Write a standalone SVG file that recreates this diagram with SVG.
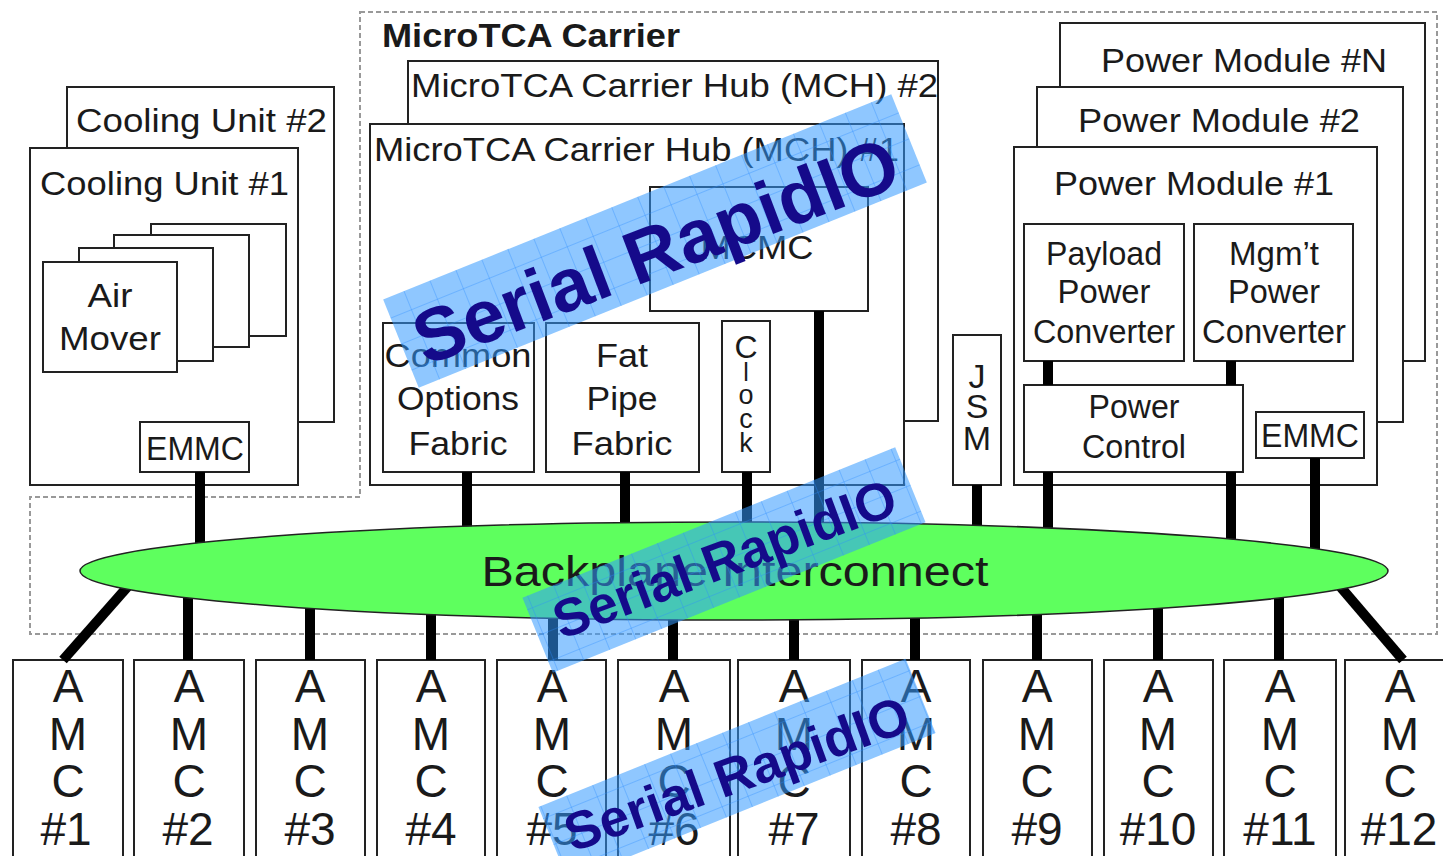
<svg xmlns="http://www.w3.org/2000/svg" width="1443" height="856" viewBox="0 0 1443 856">
<defs>
<style>
.box{fill:#fff;stroke:#222;stroke-width:2}
.t{font-family:"Liberation Sans",Arial,sans-serif;font-size:33px;fill:#1a1a1a}
.c{text-anchor:middle}
.amc{font-family:"Liberation Sans",Arial,sans-serif;font-size:46px;fill:#1a1a1a;text-anchor:middle}
.wire{stroke:#000;stroke-width:10;fill:none}
.band{fill:#3399ff;fill-opacity:0.55}
.sr{font-family:"Liberation Sans",Arial,sans-serif;font-weight:bold;fill:#150a8a;text-anchor:middle}
</style>
<pattern id="grid" width="28" height="28" patternUnits="userSpaceOnUse">
<path d="M28 0H0V28" fill="none" stroke="#2a8cff" stroke-width="1" stroke-opacity="0.7"/>
</pattern>
</defs>
<rect width="1443" height="856" fill="#fff"/>

<g id="carrier">
<path d="M360 12H1437V634H30V497H360Z" fill="none" stroke="#999" stroke-width="2" stroke-dasharray="5 3"/>
<text class="t" x="382" y="47" font-weight="bold" textLength="298" lengthAdjust="spacingAndGlyphs">MicroTCA Carrier</text>
</g>

<g id="cooling2">
<rect class="box" x="67" y="87" width="267" height="335"/>
<text class="t" x="76" y="132" textLength="251" lengthAdjust="spacingAndGlyphs">Cooling Unit #2</text>
</g>
<g id="cooling1">
<rect class="box" x="30" y="148" width="268" height="337"/>
<text class="t" x="40" y="195" textLength="249" lengthAdjust="spacingAndGlyphs">Cooling Unit #1</text>
</g>
<g id="airmover">
<rect class="box" x="151" y="224" width="135" height="112"/>
<rect class="box" x="114" y="235" width="135" height="112"/>
<rect class="box" x="79" y="248" width="134" height="113"/>
<rect class="box" x="43" y="262" width="134" height="110"/>
<text class="t c" x="110" y="307" textLength="45" lengthAdjust="spacingAndGlyphs">Air</text>
<text class="t c" x="110" y="350" textLength="102" lengthAdjust="spacingAndGlyphs">Mover</text>
</g>
<g id="emmc-cooling">
<rect class="box" x="140" y="422" width="109" height="50"/>
<text class="t c" x="195" y="460" textLength="98" lengthAdjust="spacingAndGlyphs">EMMC</text>
</g>

<g id="mch2">
<rect class="box" x="408" y="61" width="530" height="360"/>
<text class="t" x="411" y="97" textLength="527" lengthAdjust="spacingAndGlyphs">MicroTCA Carrier Hub (MCH) #2</text>
</g>
<g id="mch1">
<rect class="box" x="370" y="124" width="534" height="361"/>
<text class="t" x="374" y="161" textLength="525" lengthAdjust="spacingAndGlyphs">MicroTCA Carrier Hub (MCH) #1</text>
</g>
<g id="mcmc">
<rect class="box" x="650" y="187" width="218" height="124"/>
<text class="t c" x="757" y="259" textLength="113" lengthAdjust="spacingAndGlyphs">MCMC</text>
</g>
<g id="common">
<rect class="box" x="383" y="323" width="151" height="149"/>
<text class="t c" x="458" y="367" textLength="147" lengthAdjust="spacingAndGlyphs">Common</text>
<text class="t c" x="458" y="410" textLength="122" lengthAdjust="spacingAndGlyphs">Options</text>
<text class="t c" x="458" y="455" textLength="99" lengthAdjust="spacingAndGlyphs">Fabric</text>
</g>
<g id="fatpipe">
<rect class="box" x="546" y="323" width="153" height="149"/>
<text class="t c" x="622" y="367" textLength="52" lengthAdjust="spacingAndGlyphs">Fat</text>
<text class="t c" x="622" y="410" textLength="71" lengthAdjust="spacingAndGlyphs">Pipe</text>
<text class="t c" x="622" y="455" textLength="101" lengthAdjust="spacingAndGlyphs">Fabric</text>
</g>
<g id="clock">
<rect class="box" x="722" y="321" width="48" height="151"/>
<text class="t c" x="746" y="358" style="font-size:32px">C</text>
<text class="t c" x="746" y="381" style="font-size:25px">l</text>
<text class="t c" x="746" y="404" style="font-size:27px">o</text>
<text class="t c" x="746" y="428" style="font-size:27px">c</text>
<text class="t c" x="746" y="452" style="font-size:27px">k</text>
</g>
<g id="jsm">
<rect class="box" x="953" y="335" width="48" height="150"/>
<text class="t c" x="977" y="388" style="font-size:34px">J</text>
<text class="t c" x="977" y="418" style="font-size:34px">S</text>
<text class="t c" x="977" y="450" style="font-size:34px">M</text>
</g>

<g id="pmN">
<rect class="box" x="1060" y="23" width="365" height="338"/>
<text class="t" x="1101" y="72" textLength="286" lengthAdjust="spacingAndGlyphs">Power Module #N</text>
</g>
<g id="pm2">
<rect class="box" x="1037" y="87" width="366" height="335"/>
<text class="t" x="1078" y="132" textLength="282" lengthAdjust="spacingAndGlyphs">Power Module #2</text>
</g>
<g id="pm1">
<rect class="box" x="1014" y="147" width="363" height="338"/>
<text class="t" x="1054" y="195" textLength="280" lengthAdjust="spacingAndGlyphs">Power Module #1</text>
</g>
<g id="payload">
<rect class="box" x="1024" y="224" width="160" height="137"/>
<text class="t c" x="1104" y="265" textLength="116" lengthAdjust="spacingAndGlyphs">Payload</text>
<text class="t c" x="1104" y="303" textLength="93" lengthAdjust="spacingAndGlyphs">Power</text>
<text class="t c" x="1104" y="343" textLength="142" lengthAdjust="spacingAndGlyphs">Converter</text>
</g>
<g id="mgmt">
<rect class="box" x="1194" y="224" width="159" height="137"/>
<text class="t c" x="1274" y="265" textLength="90" lengthAdjust="spacingAndGlyphs">Mgm’t</text>
<text class="t c" x="1274" y="303" textLength="92" lengthAdjust="spacingAndGlyphs">Power</text>
<text class="t c" x="1274" y="343" textLength="144" lengthAdjust="spacingAndGlyphs">Converter</text>
</g>
<g id="powerctl">
<rect class="box" x="1024" y="385" width="219" height="87"/>
<text class="t c" x="1134" y="418" textLength="91" lengthAdjust="spacingAndGlyphs">Power</text>
<text class="t c" x="1134" y="458" textLength="104" lengthAdjust="spacingAndGlyphs">Control</text>
</g>
<g id="emmc-power">
<rect class="box" x="1256" y="412" width="108" height="46"/>
<text class="t c" x="1310" y="447" textLength="98" lengthAdjust="spacingAndGlyphs">EMMC</text>
</g>

<g id="amcs">
<g id="amc1"><rect class="box" x="13" y="660" width="110" height="220"/><text class="amc"><tspan x="68" y="702">A</tspan><tspan x="68" y="750">M</tspan><tspan x="68" y="797">C</tspan><tspan x="66" y="845">#1</tspan></text></g>
<g id="amc2"><rect class="box" x="134" y="660" width="110" height="220"/><text class="amc"><tspan x="189" y="702">A</tspan><tspan x="189" y="750">M</tspan><tspan x="189" y="797">C</tspan><tspan x="188" y="845">#2</tspan></text></g>
<g id="amc3"><rect class="box" x="256" y="660" width="109" height="220"/><text class="amc"><tspan x="310" y="702">A</tspan><tspan x="310" y="750">M</tspan><tspan x="310" y="797">C</tspan><tspan x="310" y="845">#3</tspan></text></g>
<g id="amc4"><rect class="box" x="377" y="660" width="108" height="220"/><text class="amc"><tspan x="431" y="702">A</tspan><tspan x="431" y="750">M</tspan><tspan x="431" y="797">C</tspan><tspan x="431" y="845">#4</tspan></text></g>
<g id="amc5"><rect class="box" x="497" y="660" width="109" height="220"/><text class="amc"><tspan x="552" y="702">A</tspan><tspan x="552" y="750">M</tspan><tspan x="552" y="797">C</tspan><tspan x="552" y="845">#5</tspan></text></g>
<g id="amc6"><rect class="box" x="618" y="660" width="112" height="220"/><text class="amc"><tspan x="674" y="702">A</tspan><tspan x="674" y="750">M</tspan><tspan x="674" y="797">C</tspan><tspan x="674" y="845">#6</tspan></text></g>
<g id="amc7"><rect class="box" x="738" y="660" width="112" height="220"/><text class="amc"><tspan x="794" y="702">A</tspan><tspan x="794" y="750">M</tspan><tspan x="794" y="797">C</tspan><tspan x="794" y="845">#7</tspan></text></g>
<g id="amc8"><rect class="box" x="862" y="660" width="108" height="220"/><text class="amc"><tspan x="916" y="702">A</tspan><tspan x="916" y="750">M</tspan><tspan x="916" y="797">C</tspan><tspan x="916" y="845">#8</tspan></text></g>
<g id="amc9"><rect class="box" x="983" y="660" width="109" height="220"/><text class="amc"><tspan x="1037" y="702">A</tspan><tspan x="1037" y="750">M</tspan><tspan x="1037" y="797">C</tspan><tspan x="1037" y="845">#9</tspan></text></g>
<g id="amc10"><rect class="box" x="1104" y="660" width="109" height="220"/><text class="amc"><tspan x="1158" y="702">A</tspan><tspan x="1158" y="750">M</tspan><tspan x="1158" y="797">C</tspan><tspan x="1158" y="845">#10</tspan></text></g>
<g id="amc11"><rect class="box" x="1224" y="660" width="112" height="220"/><text class="amc"><tspan x="1280" y="702">A</tspan><tspan x="1280" y="750">M</tspan><tspan x="1280" y="797">C</tspan><tspan x="1280" y="845">#11</tspan></text></g>
<g id="amc12"><rect class="box" x="1345" y="660" width="120" height="220"/><text class="amc"><tspan x="1400" y="702">A</tspan><tspan x="1400" y="750">M</tspan><tspan x="1400" y="797">C</tspan><tspan x="1399" y="845">#12</tspan></text></g>
</g>

<g id="connectors" class="wire">
<path d="M200 472V572"/>
<path d="M467 472V560"/>
<path d="M625 472V560"/>
<path d="M747 472V560"/>
<path d="M819 311V560"/>
<path d="M977 485V560"/>
<path d="M1048 361V385M1048 472V560"/>
<path d="M1231 361V385M1231 472V560"/>
<path d="M1315 458V560"/>
<path d="M130 584L63 660"/>
<path d="M188 575V660"/>
<path d="M310 575V660"/>
<path d="M431 575V660"/>
<path d="M553 575V660"/>
<path d="M673 575V660"/>
<path d="M794 575V660"/>
<path d="M915 575V660"/>
<path d="M1037 575V660"/>
<path d="M1158 575V660"/>
<path d="M1279 575V660"/>
<path d="M1338 584L1403 660"/>
</g>

<g id="backplane">
<ellipse cx="734" cy="571" rx="654" ry="49" fill="#5eff5e" stroke="#222" stroke-width="1.5"/>
<text class="t c" x="735" y="586" style="font-size:43px" textLength="507" lengthAdjust="spacingAndGlyphs">Backplane Interconnect</text>
</g>

<g id="banner1">
<g transform="translate(655,241) rotate(-22)">
<rect class="band" x="-274" y="-47.5" width="548" height="95"/>
<rect x="-274" y="-47.5" width="548" height="95" fill="url(#grid)"/>
</g>
<text class="sr" transform="translate(665,275) rotate(-20.8)" style="font-size:75px">Serial RapidIO</text>
</g>
<g id="banner2">
<g transform="translate(724,560) rotate(-22)">
<rect class="band" x="-201" y="-40.5" width="402" height="81"/>
<rect x="-201" y="-40.5" width="402" height="81" fill="url(#grid)"/>
</g>
<text class="sr" transform="translate(731,576) rotate(-20.6)" style="font-size:53px">Serial RapidIO</text>
</g>
<g id="banner3">
<g transform="translate(737,770) rotate(-22)">
<rect class="band" x="-198" y="-40" width="396" height="80"/>
<rect x="-198" y="-40" width="396" height="80" fill="url(#grid)"/>
</g>
<text class="sr" transform="translate(743,791) rotate(-19.8)" style="font-size:53px">Serial RapidIO</text>
</g>
</svg>
